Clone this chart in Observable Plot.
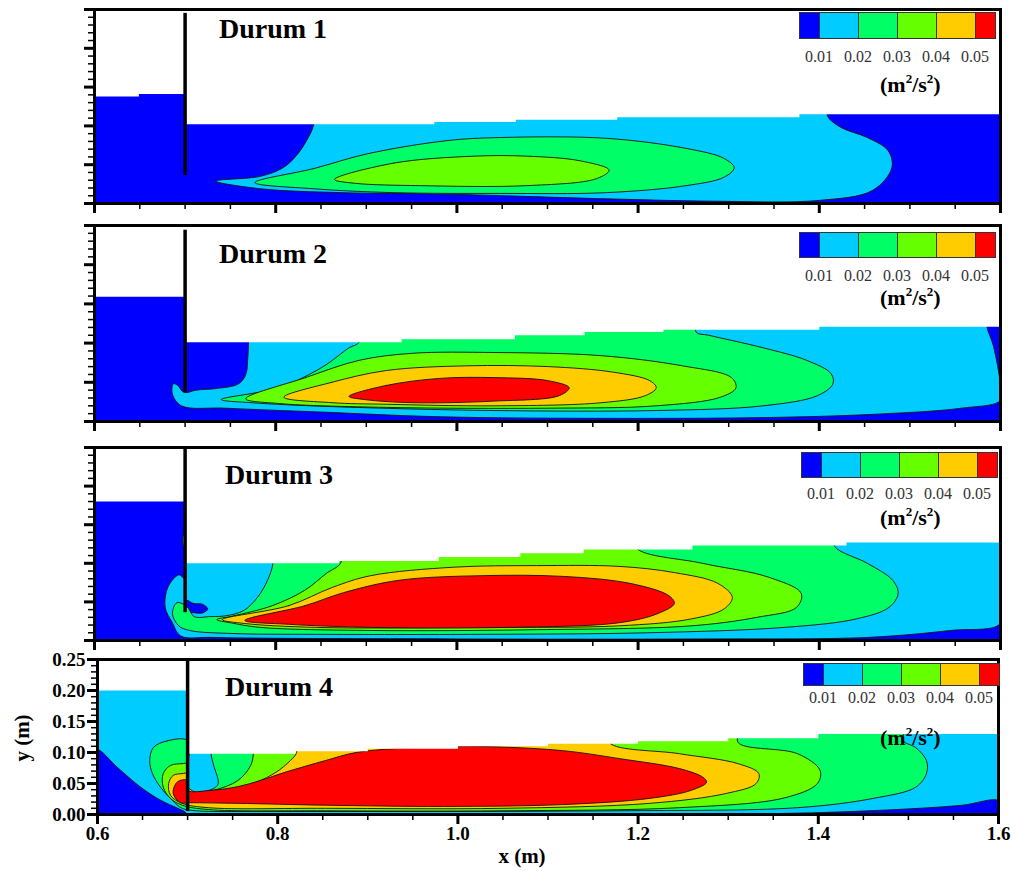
<!DOCTYPE html>
<html><head><meta charset="utf-8">
<script src="https://cdn.jsdelivr.net/npm/d3@7"></script>
<script src="https://cdn.jsdelivr.net/npm/@observablehq/plot@0.6"></script>
<style>
body{margin:0;background:#fff;}
#root{position:relative;width:1019px;height:871px;overflow:hidden;font-family:"Liberation Serif","Times New Roman",serif;color:#000;}
.abs{position:absolute;white-space:nowrap;line-height:1;}
.durum{font-weight:bold;font-size:28px;}
.units{font-weight:bold;font-size:22px;}
.units sup{font-size:13px;vertical-align:9px;line-height:0;}
.leglab{font-size:16px;color:#333;transform:translateX(-50%);}
.band{position:absolute;top:0;box-sizing:border-box;border:1px solid #333;}
.axlab{font-weight:bold;font-size:21px;}
</style></head><body><div id="root"></div>
<script>
// ---------- colours of the contour bands ----------
const bandColors = {blue:"#0000ff", cyan:"#00ccff", green:"#00ff66", lime:"#66ff00", orange:"#ffcc00", red:"#ff0000"};
const legendColors = ["#0000ff","#00ccff","#00ff66","#66ff00","#ffcc00","#ff0000"];
const legendLabels = ["0.01","0.02","0.03","0.04","0.05"];
const panelTitles = ["Durum 1","Durum 2","Durum 3","Durum 4"];

// ---------- axis ticks ----------
const xMajorTicks = [0.6,0.8,1.0,1.2,1.4,1.6];
const xTickLabels = ["0.6","0.8","1.0","1.2","1.4","1.6"];
const xMinorTicks = [0.6,0.65,0.7,0.75,0.8,0.85,0.9,0.95,1.0,1.05,1.1,1.15,1.2,1.25,1.3,1.35,1.4,1.45,1.5,1.55,1.6];
const yMajorTicks = [0,0.05,0.1,0.15,0.2,0.25];
const yTickLabels = ["0.00","0.05","0.10","0.15","0.20","0.25"];
const yMinorTicks = [0,0.01,0.02,0.03,0.04,0.05,0.06,0.07,0.08,0.09,0.1,0.11,0.12,0.13,0.14,0.15,0.16,0.17,0.18,0.19,0.2,0.21,0.22,0.23,0.24,0.25];
const gateX = 0.7;

// ---------- Durum 1 ----------
const p1Upstream = [[0.6,0.138],[0.649,0.138],[0.649,0.141],[0.7,0.141]];
const p1Surface = [[0.7,0.102],[0.975,0.102],[0.975,0.105],[1.065,0.105],[1.065,0.108],[1.177,0.108],[1.177,0.111],[1.378,0.111],[1.378,0.115],[1.6,0.115]];
const p1Gate = [0.036,0.245];
const p1Cyan = [[0.842,0.14],[0.842,0.102],[0.834,0.081],[0.823,0.062],[0.808,0.046],[0.783,0.035],[0.734,0.029],[0.783,0.019],[0.872,0.014],[0.989,0.012],[1.165,0.006],[1.283,0.003],[1.400,0.004],[1.459,0.017],[1.480,0.046],[1.476,0.068],[1.453,0.085],[1.424,0.098],[1.409,0.113],[1.409,0.14],[1.1,0.14]];
const p1Green = [[0.777,0.027],[0.842,0.045],[0.901,0.064],[0.989,0.081],[1.048,0.085],[1.165,0.084],[1.253,0.071],[1.295,0.058],[1.306,0.046],[1.295,0.034],[1.253,0.023],[1.165,0.014],[1.048,0.013],[0.930,0.014],[0.842,0.019]];
const p1Lime = [[0.865,0.031],[0.930,0.052],[1.019,0.061],[1.077,0.061],[1.136,0.055],[1.168,0.043],[1.154,0.032],[1.077,0.023],[0.959,0.023],[0.888,0.026]];

// ---------- Durum 2 ----------
const p2Upstream = [[0.6,0.159],[0.7,0.159]];
const p2Surface = [[0.7,0.101],[0.939,0.101],[0.939,0.105],[1.064,0.105],[1.064,0.110],[1.141,0.110],[1.141,0.114],[1.228,0.114],[1.228,0.117],[1.40,0.117],[1.40,0.121],[1.6,0.121]];
const p2Gate = [0.037,0.244];
const p2Cyan = [[0.77,0.14],[0.77,0.101],[0.769,0.078],[0.767,0.060],[0.759,0.048],[0.734,0.042],[0.712,0.040],[0.699,0.037],[0.691,0.047],[0.687,0.048],[0.686,0.035],[0.696,0.020],[0.744,0.017],[0.85,0.012],[0.982,0.006],[1.159,0.004],[1.338,0.005],[1.457,0.009],[1.557,0.017],[1.6,0.027],[1.6,0.046],[1.592,0.097],[1.585,0.121],[1.585,0.14],[1.2,0.14]];
const p2Green = [[0.740,0.028],[0.803,0.043],[0.851,0.069],[0.881,0.094],[0.892,0.101],[0.892,0.14],[1.1,0.14],[1.264,0.14],[1.264,0.114],[1.278,0.110],[1.338,0.094],[1.386,0.078],[1.413,0.061],[1.415,0.048],[1.398,0.033],[1.338,0.020],[1.220,0.014],[1.041,0.014],[0.862,0.019],[0.773,0.024]];
const p2Lime = [[0.767,0.029],[0.833,0.056],[0.892,0.078],[0.951,0.087],[1.041,0.088],[1.159,0.084],[1.249,0.071],[1.303,0.056],[1.308,0.043],[1.291,0.031],[1.220,0.020],[1.101,0.017],[0.922,0.018],[0.803,0.023]];
const p2Orange = [[0.809,0.031],[0.862,0.050],[0.922,0.065],[1.011,0.071],[1.101,0.070],[1.172,0.063],[1.213,0.052],[1.220,0.043],[1.208,0.033],[1.160,0.024],[1.041,0.020],[0.922,0.022],[0.862,0.024]];
const p2Red = [[0.881,0.032],[0.922,0.046],[0.981,0.055],[1.041,0.056],[1.101,0.052],[1.124,0.043],[1.113,0.033],[1.041,0.026],[0.951,0.024],[0.898,0.028]];

// ---------- Durum 3 ----------
const p3Upstream = [[0.6,0.18],[0.7,0.18]];
const p3Surface = [[0.7,0.100],[0.87,0.100],[0.87,0.103],[0.98,0.103],[0.98,0.108],[1.07,0.108],[1.07,0.113],[1.14,0.113],[1.14,0.118],[1.26,0.118],[1.26,0.123],[1.43,0.123],[1.43,0.127],[1.6,0.127]];
const p3Gate = [0.036,0.25];
const p3Cyan = [[0.7,0.14],[1.15,0.14],[1.6,0.14],[1.6,0.1],[1.6,0.06],[1.6,0.022],[1.545,0.013],[1.453,0.004],[1.27,0.002],[1.0,0.002],[0.731,0.004],[0.695,0.006],[0.686,0.023],[0.678,0.043],[0.681,0.069],[0.693,0.085],[0.7,0.08],[0.7,0.11]];
const p3Blob = [[0.702,0.052],[0.709,0.048],[0.719,0.047],[0.725,0.041],[0.720,0.036],[0.709,0.036],[0.702,0.038]];
const p3Green = [[0.691,0.049],[0.702,0.044],[0.710,0.031],[0.728,0.031],[0.745,0.032],[0.765,0.039],[0.780,0.056],[0.791,0.078],[0.797,0.100],[0.797,0.14],[1.1,0.14],[1.417,0.14],[1.417,0.122],[1.453,0.100],[1.481,0.078],[1.487,0.061],[1.477,0.043],[1.441,0.028],[1.362,0.017],[1.210,0.010],[1.028,0.008],[0.844,0.008],[0.754,0.009],[0.705,0.013],[0.693,0.019],[0.686,0.035]];
const p3Lime = [[0.735,0.027],[0.754,0.032],[0.796,0.045],[0.832,0.065],[0.856,0.087],[0.872,0.101],[0.872,0.14],[1.198,0.14],[1.198,0.12],[1.271,0.100],[1.344,0.082],[1.380,0.061],[1.375,0.043],[1.331,0.030],[1.259,0.019],[1.088,0.014],[0.905,0.013],[0.783,0.017],[0.750,0.023]];
const p3Orange = [[0.741,0.027],[0.814,0.045],[0.863,0.069],[0.905,0.084],[0.997,0.095],[1.088,0.097],[1.179,0.096],[1.240,0.088],[1.288,0.074],[1.304,0.056],[1.295,0.041],[1.259,0.028],[1.179,0.019],[1.028,0.017],[0.844,0.017],[0.766,0.022]];
const p3Red = [[0.766,0.026],[0.832,0.045],[0.875,0.062],[0.936,0.078],[1.028,0.084],[1.118,0.083],[1.191,0.074],[1.234,0.058],[1.240,0.048],[1.222,0.035],[1.179,0.023],[1.057,0.017],[0.905,0.017],[0.814,0.021]];

// ---------- Durum 4 ----------
const p4Upstream = [[0.6,0.20],[0.7,0.20]];
const p4Surface = [[0.7,0.098],[0.82,0.098],[0.82,0.102],[0.9,0.102],[0.9,0.106],[1.0,0.106],[1.0,0.110],[1.1,0.110],[1.1,0.114],[1.2,0.114],[1.2,0.118],[1.3,0.118],[1.3,0.123],[1.4,0.123],[1.4,0.130],[1.6,0.130]];
const p4Gate = [0.005,0.25];
const p4BlueTri = [[0.6,0.104],[0.622,0.076],[0.648,0.044],[0.67,0.023],[0.689,0.010],[0.698,0.003],[0.698,0],[0.65,0],[0.6,0],[0.6,0.05]];
const p4BlueRight = [[1.30,0],[1.40,0.003],[1.50,0.009],[1.56,0.015],[1.6,0.022],[1.6,0],[1.45,0]];
const p4Green = [[0.7,0.119],[0.678,0.119],[0.662,0.108],[0.658,0.087],[0.661,0.066],[0.670,0.044],[0.683,0.023],[0.694,0.010],[0.710,0.006],[0.788,0.005],[0.984,0.005],[1.180,0.006],[1.377,0.011],[1.461,0.026],[1.508,0.044],[1.520,0.066],[1.520,0.087],[1.508,0.108],[1.494,0.119],[1.494,0.14],[1.1,0.14],[0.726,0.14],[0.726,0.098],[0.729,0.079],[0.734,0.050],[0.729,0.042],[0.711,0.035],[0.703,0.035],[0.7,0.07]];
const p4Lime = [[0.7,0.082],[0.694,0.082],[0.681,0.079],[0.673,0.066],[0.673,0.044],[0.681,0.026],[0.694,0.015],[0.723,0.008],[0.853,0.006],[1.050,0.006],[1.246,0.011],[1.363,0.027],[1.399,0.050],[1.402,0.071],[1.377,0.098],[1.311,0.116],[1.311,0.14],[1.0,0.14],[0.773,0.14],[0.773,0.098],[0.770,0.079],[0.756,0.055],[0.729,0.039],[0.703,0.034],[0.7,0.06]];
const p4Orange = [[0.7,0.066],[0.694,0.066],[0.684,0.063],[0.679,0.050],[0.681,0.031],[0.694,0.018],[0.723,0.011],[0.853,0.010],[1.050,0.010],[1.213,0.018],[1.298,0.034],[1.331,0.050],[1.334,0.066],[1.311,0.082],[1.246,0.098],[1.168,0.116],[1.168,0.14],[0.821,0.14],[0.821,0.100],[0.814,0.087],[0.798,0.068],[0.776,0.052],[0.748,0.040],[0.714,0.034],[0.7,0.045]];
const p4Red = [[0.7,0.055],[0.692,0.055],[0.687,0.050],[0.684,0.034],[0.692,0.019],[0.703,0.019],[0.756,0.018],[0.853,0.015],[0.984,0.013],[1.116,0.016],[1.213,0.026],[1.259,0.039],[1.276,0.052],[1.272,0.060],[1.246,0.074],[1.180,0.090],[1.116,0.103],[1.017,0.110],[0.952,0.108],[0.887,0.100],[0.853,0.087],[0.808,0.068],[0.781,0.055],[0.756,0.045],[0.726,0.039],[0.7,0.039]];

// ---------- layout ----------
const panels = [
  {top:0,   height:218, mt:9,  mb:15, ml:94, mr:19, base:"blue", upstream:p1Upstream, surface:p1Surface, gate:p1Gate,
   fills:[["cyan",p1Cyan],["green",p1Green],["lime",p1Lime]], labels:false,
   title:{left:219,top:15}, legend:{left:799,top:12,h:27,lab:49,units:{left:880,top:74}}},
  {top:212, height:221, mt:13, mb:12, ml:94, mr:19, base:"blue", upstream:p2Upstream, surface:p2Surface, gate:p2Gate,
   fills:[["cyan",p2Cyan],["green",p2Green],["lime",p2Lime],["orange",p2Orange],["red",p2Red]], labels:false,
   title:{left:219,top:240}, legend:{left:799,top:232,h:26,lab:268,units:{left:880,top:287}}},
  {top:435, height:217, mt:12, mb:12, ml:94, mr:19, base:"blue", upstream:p3Upstream, surface:p3Surface, gate:p3Gate,
   fills:[["cyan",p3Cyan],["blue",p3Blob],["green",p3Green],["lime",p3Lime],["orange",p3Orange],["red",p3Red]], labels:false,
   title:{left:225,top:461}, legend:{left:801,top:452,h:26,lab:486,units:{left:880,top:507}}},
  {top:648, height:223, mt:11, mb:57, ml:97, mr:21, base:"cyan", upstream:p4Upstream, surface:p4Surface, gate:p4Gate,
   fills:[["blue",p4BlueTri],["blue",p4BlueRight],["green",p4Green],["lime",p4Lime],["orange",p4Orange],["red",p4Red]], labels:true,
   title:{left:225,top:673}, legend:{left:803,top:663,h:23,lab:690,units:{left:880,top:727}}}
];
const legendWidths = [20,39,39,39,39,20];

const root = document.getElementById("root");
const poly = (data, fill, stroke) => Plot.line(data, {x: d => d[0], y: d => d[1], fill, stroke: stroke ? "#111" : "none", strokeWidth: 0.9, clip: true, curve: stroke ? "catmull-rom-closed" : "linear-closed"});

panels.forEach((p, k) => {
  const air = [[0.6,0.25], ...p.upstream, ...p.surface, [1.6,0.25]];
  const marks = [
    Plot.frame({fill: bandColors[p.base], stroke: "none"}),
    ...p.fills.map(([c, d]) => poly(d, bandColors[c], true)),
    poly(air, "white", false),
    Plot.ruleX([gateX], {x: d => d, y1: () => p.gate[0], y2: () => p.gate[1], stroke: "black", strokeWidth: 3.5}),
    Plot.frame({stroke: "black", strokeWidth: 3}),
    Plot.axisY({ticks: yMinorTicks, tickSize: 6, strokeWidth: 1.5, tickFormat: () => "", label: null}),
    Plot.axisY({ticks: yMajorTicks, tickSize: 10, strokeWidth: 3, tickPadding: 2, label: null,
      tickFormat: p.labels ? (d => yTickLabels[yMajorTicks.indexOf(d)]) : () => ""}),
    Plot.axisX({ticks: xMinorTicks, tickSize: 6, strokeWidth: 1.5, tickFormat: () => "", label: null}),
    Plot.axisX({ticks: xMajorTicks, tickSize: 10, strokeWidth: 3, tickPadding: 2, label: null,
      tickFormat: p.labels ? (d => xTickLabels[xMajorTicks.indexOf(d)]) : () => ""})
  ];
  const svg = Plot.plot({
    width: 1019, height: p.height,
    marginTop: p.mt, marginBottom: p.mb, marginLeft: p.ml, marginRight: p.mr,
    x: {domain: [0.6, 1.6]}, y: {domain: [0, 0.25]},
    style: {background: "transparent", overflow: "visible", fontFamily: "'Liberation Serif', serif", fontSize: "19px", fontWeight: "bold", color: "black"},
    marks
  });
  svg.style.position = "absolute";
  svg.style.left = "0px";
  svg.style.top = p.top + "px";
  root.appendChild(svg);

  // title
  const t = document.createElement("div");
  t.className = "abs durum";
  t.style.left = p.title.left + "px"; t.style.top = p.title.top + "px";
  t.textContent = panelTitles[k];
  root.appendChild(t);

  // legend
  const L = p.legend;
  const bar = document.createElement("div");
  bar.className = "abs";
  bar.style.left = L.left + "px"; bar.style.top = L.top + "px";
  bar.style.width = legendWidths.reduce((a, b) => a + b, 0) + "px"; bar.style.height = L.h + "px";
  let acc = 0;
  legendColors.forEach((c, i) => {
    const b = document.createElement("div");
    b.className = "band";
    b.style.left = acc + "px"; b.style.width = (legendWidths[i] + 1) + "px"; b.style.height = L.h + "px";
    b.style.background = c;
    bar.appendChild(b);
    acc += legendWidths[i];
  });
  root.appendChild(bar);
  acc = 0;
  legendLabels.forEach((s, i) => {
    acc += legendWidths[i];
    const l = document.createElement("div");
    l.className = "abs leglab";
    l.style.left = (L.left + acc) + "px"; l.style.top = L.lab + "px";
    l.textContent = s;
    root.appendChild(l);
  });
  const u = document.createElement("div");
  u.className = "abs units";
  u.style.left = L.units.left + "px"; u.style.top = L.units.top + "px";
  u.innerHTML = "(m<sup>2</sup>/s<sup>2</sup>)";
  root.appendChild(u);
});

const xl = document.createElement("div");
xl.className = "abs axlab";
xl.style.left = "522px"; xl.style.top = "846px"; xl.style.transform = "translateX(-50%)";
xl.textContent = "x (m)";
root.appendChild(xl);
const yl = document.createElement("div");
yl.className = "abs axlab";
yl.style.left = "22px"; yl.style.top = "738px"; yl.style.transform = "translate(-50%,-50%) rotate(-90deg)";
yl.textContent = "y (m)";
root.appendChild(yl);
</script></body></html>
